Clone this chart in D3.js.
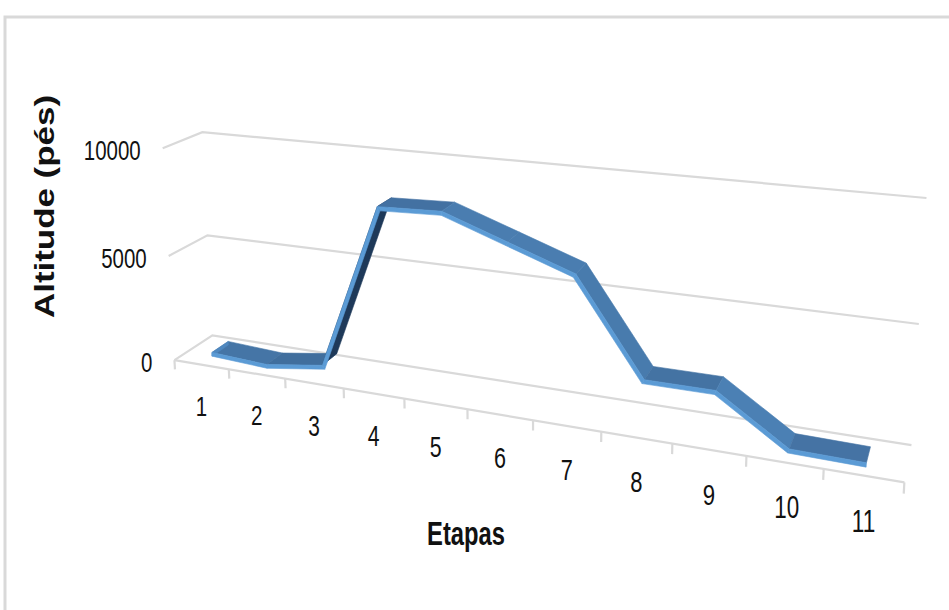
<!DOCTYPE html>
<html>
<head>
<meta charset="utf-8">
<script src="https://cdn.jsdelivr.net/npm/d3@7"></script>
<style>
  html, body { margin: 0; padding: 0; background: #ffffff; }
  svg { display: block; }
</style>
</head>
<body>
<svg id="chart" width="949" height="610"></svg>
<script>
// ---- data ----
const categories = ["1", "2", "3", "4", "5", "6", "7", "8", "9", "10", "11"];
const altitude = [150, 0, 400, 8000, 8100, 7100, 6100, 2000, 2000, 50, 0];
const valueTicks = [0, 5000, 10000];
const yTitle = "Altitude (pés)";
const xTitle = "Etapas";

// ---- world scales: category slot, value, depth ----
const xWorld = d3.scaleLinear().domain([0, categories.length]).range([0, 11]);
const yWorld = d3.scaleLinear().domain([0, 10000]).range([0, 10]);
const zWorld = d3.scaleLinear().domain([0, 1]).range([0, 1]); // 0 = front, 1 = back wall

// ---- perspective camera solved from the plot box corners (DLT) ----
const boxAnchors = [
  [[0, 0, 0], [175, 360]], [[11, 0, 0], [905, 480]],
  [[0, 0, 1], [212, 335]], [[11, 0, 1], [912, 445]],
  [[0, 5, 1], [208, 235]], [[0, 10, 1], [202, 133]],
  [[11, 5, 1], [918, 324]], [[11, 10, 1], [927, 198]],
  [[0, 5, 0], [168, 255]], [[0, 10, 0], [163, 148]],
  [[3, 0, 0], [344, 389]], [[5, 0, 0], [467, 410]],
  [[7, 0, 0], [602, 432]], [[9, 0, 0], [745, 458]]
];
const NU = 500, NV = 300, NS = 400;
function solveCamera(pairs) {
  const rows = [], rhs = [];
  pairs.forEach(([[X, Y, Z], [u0, v0]]) => {
    const u = (u0 - NU) / NS, v = (v0 - NV) / NS;
    rows.push([X, Y, Z, 1, 0, 0, 0, 0, -u * X, -u * Y, -u * Z]); rhs.push(u);
    rows.push([0, 0, 0, 0, X, Y, Z, 1, -v * X, -v * Y, -v * Z]); rhs.push(v);
  });
  const n = 11;
  const M = Array.from({length: n}, () => new Array(n + 1).fill(0));
  rows.forEach((r, k) => {
    for (let i = 0; i < n; i++) {
      for (let j = 0; j < n; j++) M[i][j] += r[i] * r[j];
      M[i][n] += r[i] * rhs[k];
    }
  });
  for (let i = 0; i < n; i++) {
    let p = i;
    for (let k = i + 1; k < n; k++) if (Math.abs(M[k][i]) > Math.abs(M[p][i])) p = k;
    [M[i], M[p]] = [M[p], M[i]];
    for (let k = 0; k < n; k++) {
      if (k === i) continue;
      const f = M[k][i] / M[i][i];
      for (let j = i; j <= n; j++) M[k][j] -= f * M[i][j];
    }
  }
  return M.map((row, i) => row[n] / row[i]);
}
const cam = solveCamera(boxAnchors);
function project(X, Y, Z) {
  const w = cam[8] * X + cam[9] * Y + cam[10] * Z + 1;
  const u = (cam[0] * X + cam[1] * Y + cam[2] * Z + cam[3]) / w;
  const v = (cam[4] * X + cam[5] * Y + cam[6] * Z + cam[7]) / w;
  return [u * NS + NU, v * NS + NV, w];
}

const svg = d3.select("#chart");

// chart area border (top and left edges)
svg.append("rect").attr("x", 0).attr("y", 0).attr("width", 949).attr("height", 610).attr("fill", "#ffffff");
svg.append("path").attr("d", "M5,610 L5,17 L949,17")
  .attr("fill", "none").attr("stroke", "#d9d9d9").attr("stroke-width", 3);

// ---- walls: value gridlines on side and back wall ----
const line = d3.line();
const gGrid = svg.append("g").attr("fill", "none").attr("stroke", "#d9d9d9").attr("stroke-width", 2.2);
const xMax = xWorld(categories.length);
valueTicks.forEach(t => {
  const y = yWorld(t);
  gGrid.append("path").attr("d", line([project(0, y, zWorld(0)), project(0, y, zWorld(1)), project(xMax, y, zWorld(1))].map(p => [p[0], p[1]])));
});
// floor front edge with category tick marks
gGrid.append("path").attr("d", line([project(0, 0, 0), project(xMax, 0, 0)].map(p => [p[0], p[1]])));
d3.range(categories.length + 1).forEach(i => {
  const a = project(xWorld(i), 0, 0), b = project(xWorld(i), -0.45, 0);
  gGrid.append("path").attr("d", line([[a[0], a[1]], [b[0], b[1]]]));
});

// ---- 3D ribbon for the series ----
const PX_PER_X = 62, PX_PER_Y = 21;   // approximate on-screen size of one world unit
const thick = 3.8;                    // ribbon thickness in pixels
const z0 = zWorld(0.28), z1 = zWorld(0.72);
const pts = altitude.map((v, i) => ({ X: xWorld(i + 0.5), Y: yWorld(v) }));
const segN = d3.range(pts.length - 1).map(i => {
  const dx = (pts[i + 1].X - pts[i].X) * PX_PER_X, dy = (pts[i + 1].Y - pts[i].Y) * PX_PER_Y;
  const len = Math.hypot(dx, dy);
  return [-dy / len, dx / len];
});
const vOff = pts.map((p, i) => {
  const a = segN[Math.max(0, i - 1)], b = segN[Math.min(segN.length - 1, i)];
  let nx = a[0] + b[0], ny = a[1] + b[1];
  const l = Math.hypot(nx, ny); nx /= l; ny /= l;
  const s = Math.min(3, 1 / Math.max(0.2, nx * b[0] + ny * b[1]));
  return [nx * s * thick / 2 / PX_PER_X, ny * s * thick / 2 / PX_PER_Y];
});
const light = [0.55, 0.83];
const shade = d3.scaleLinear().domain([-0.3, 0.1, 0.85, 1])
  .range(["#1c3654", "#23446a", "#4574a5", "#4b80b4"]).clamp(true);

const faces = [];
d3.range(pts.length - 1).forEach(i => {
  const A = pts[i], B = pts[i + 1], oa = vOff[i], ob = vOff[i + 1];
  const top = [
    project(A.X + oa[0], A.Y + oa[1], z0), project(A.X + oa[0], A.Y + oa[1], z1),
    project(B.X + ob[0], B.Y + ob[1], z1), project(B.X + ob[0], B.Y + ob[1], z0)
  ];
  const n = segN[i];
  faces.push({ poly: top, fill: shade(n[0] * light[0] + n[1] * light[1]), order: 0 });
  const front = [
    project(A.X + oa[0], A.Y + oa[1], z0), project(B.X + ob[0], B.Y + ob[1], z0),
    project(B.X - ob[0], B.Y - ob[1], z0), project(A.X - oa[0], A.Y - oa[1], z0)
  ];
  faces.push({ poly: front, fill: "#5b9bd5", order: 1 });
});
// left end cap
{
  const A = pts[0], oa = vOff[0];
  faces.push({ poly: [
    project(A.X + oa[0], A.Y + oa[1], z0), project(A.X + oa[0], A.Y + oa[1], z1),
    project(A.X - oa[0], A.Y - oa[1], z1), project(A.X - oa[0], A.Y - oa[1], z0)
  ], fill: "#4f88bf", order: 1 });
}
const depth = f => d3.mean(f.poly, p => p[2]);
faces.sort((a, b) => (a.order - b.order) || (depth(b) - depth(a)));
svg.append("g").selectAll("path").data(faces).join("path")
  .attr("d", f => line(f.poly.map(p => [p[0], p[1]])) + "Z")
  .attr("fill", f => f.fill).attr("stroke", f => f.fill).attr("stroke-width", 0.6)
  .attr("stroke-linejoin", "round");

// ---- text ----
const FONT = "'Liberation Sans', Arial, sans-serif";
const SQ = 0.73;   // horizontal condensing of the label face

// value axis labels
valueTicks.forEach(t => {
  const p = project(0, yWorld(t), 0);
  svg.append("text")
    .attr("transform", `translate(${p[0] - 22},${p[1] + 12}) scale(${SQ},1)`)
    .attr("text-anchor", "end").attr("font-family", FONT).attr("font-size", 28)
    .attr("fill", "#111").text(d3.format("d")(t));
});

// category labels
const labelSize = d3.scaleLinear().domain([0, categories.length - 1]).range([28, 31]);
const labelDrop = d3.scaleLinear().domain([0, categories.length - 1]).range([51, 56]);
categories.forEach((c, i) => {
  const p = project(xWorld(i + 0.5), 0, 0);
  svg.append("text")
    .attr("transform", `translate(${p[0] + (i === 9 ? 2 : 0)},${p[1] + labelDrop(i)}) scale(${SQ},1)`)
    .attr("text-anchor", "middle").attr("font-family", FONT).attr("font-size", labelSize(i))
    .attr("fill", "#111").text(c);
});

// axis titles
svg.append("text")
  .attr("transform", `translate(466,545) scale(0.72,1)`)
  .attr("text-anchor", "middle").attr("font-family", FONT).attr("font-weight", "bold")
  .attr("font-size", 33).attr("fill", "#111").text(xTitle);

svg.append("text")
  .attr("transform", `translate(54,206.5) scale(0.8,1) rotate(-90)`)
  .attr("text-anchor", "middle").attr("font-family", FONT).attr("font-weight", "bold")
  .attr("font-size", 34).attr("textLength", 223).attr("lengthAdjust", "spacingAndGlyphs")
  .attr("fill", "#111").text(yTitle);
</script>
</body>
</html>
